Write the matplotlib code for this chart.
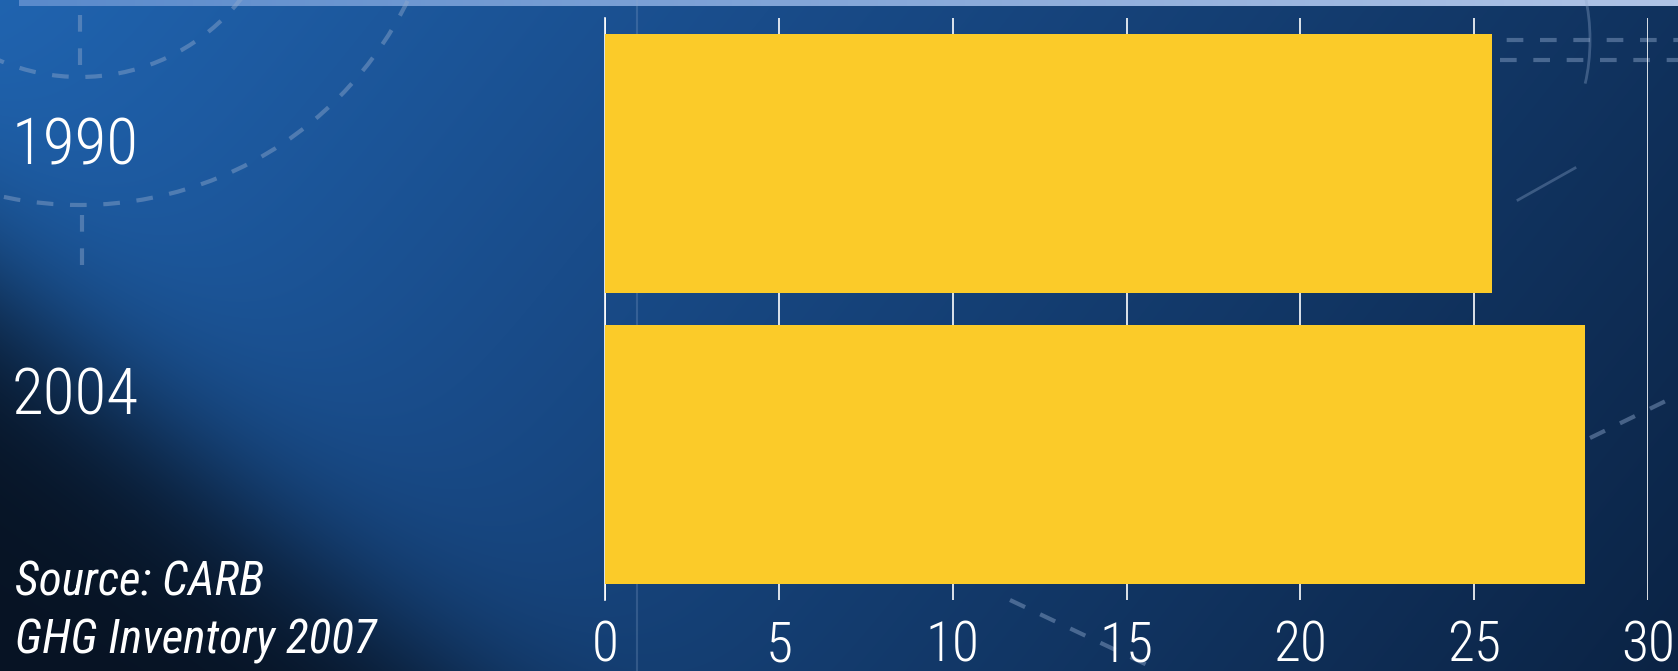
import numpy as np
import matplotlib
matplotlib.use("Agg")
import matplotlib.pyplot as plt
from matplotlib.patches import Arc

# data
years = ["1990", "2004"]
emissions = [25.5, 28.2]
xticks = [0, 5, 10, 15, 20, 25, 30]
source_lines = ["Source: CARB", "GHG Inventory 2007"]

W, H = 1678, 671
plt.rcParams['font.family'] = ['Roboto Condensed', 'Liberation Sans Narrow', 'Roboto', 'DejaVu Sans']
plt.rcParams['font.weight'] = 'light'

fig = plt.figure(figsize=(W / 100, H / 100), dpi=100)

# ---- background gradient (pixel space) ----
bg = fig.add_axes([0, 0, 1, 1])
bg.set_xlim(0, W)
bg.set_ylim(H, 0)
bg.axis('off')

xx, yy = np.meshgrid(np.arange(W), np.arange(H))
c_left = np.array([0x20, 0x64, 0xB0]) / 255
c_mid = np.array([0x19, 0x4C, 0x8A]) / 255
c_right = np.array([0x0B, 0x23, 0x44]) / 255
dark = np.array([0x06, 0x10, 0x1E]) / 255
t = np.clip((xx + 0.8 * yy) / (W + 0.8 * H), 0, 1)[..., None]
k = 0.35
base = np.where(t < k, c_left + (c_mid - c_left) * (t / k),
                c_mid + (c_right - c_mid) * ((t - k) / (1 - k)))
# darker corner bottom-left
s = ((yy - 300) - 0.84 * xx) / np.sqrt(1 + 0.84 ** 2)
w = (1 / (1 + np.exp(-s / 45)))[..., None] * 0.95
img = base * (1 - w) + dark * w
bg.imshow(img, extent=[0, W, H, 0], aspect='auto', zorder=0)

# light strip at the top
strip = np.linspace(0, 1, 400)[None, :, None]
c1 = np.array([0x5A, 0x8A, 0xCB]) / 255
c2 = np.array([0xB0, 0xC4, 0xE6]) / 255
bg.imshow(c1 + (c2 - c1) * strip, extent=[19, W, 6, 0], aspect='auto', zorder=1)

# decorative faint dashed lines
deco = dict(color='#8FA8CC', alpha=0.45, lw=3, zorder=2)
bg.add_patch(Arc((80, -128), 410, 410, theta1=0, theta2=180, ls=(0, (4, 4)), **deco))
bg.add_patch(Arc((80, -160), 730, 730, theta1=0, theta2=180, ls=(0, (4, 4)), **deco))
bg.plot([80, 80], [15, 75], ls=(0, (4, 4)), **deco)
bg.plot([82, 82], [215, 265], ls=(0, (4, 4)), **deco)
bg.plot([640, W], [40, 40], ls=(0, (4, 4)), **deco)
bg.plot([1500, W], [60, 60], ls=(0, (4, 4)), **deco)
bg.plot([1010, 1160], [600, 671], ls=(0, (4, 4)), **deco)
bg.plot([1590, W], [438, 395], ls=(0, (4, 4)), **deco)
bg.plot([1518, 1575], [200, 168], color='#8FA8CC', alpha=0.35, lw=2, zorder=2)
bg.add_patch(Arc((1560, 40), 60, 160, theta1=-60, theta2=60, color='#8FA8CC', alpha=0.35, lw=2, zorder=2))
bg.plot([637, 637], [0, H], color='#8FA8CC', alpha=0.25, lw=1.5, zorder=2)

# ---- chart ----
ax = fig.add_axes([605 / W, 1 - 600 / H, 1043 / W, 582 / H])
ax.patch.set_alpha(0)
ypos = np.arange(len(years))
ax.barh(ypos, emissions, height=0.89, color='#FBCB29', zorder=3)
ax.set_xlim(0, 30)
ax.set_ylim(1.5, -0.5)
ax.set_xticks(xticks)
ax.set_xticklabels([str(v) for v in xticks])
ax.xaxis.grid(True, color='white', lw=1.2, zorder=1)
ax.set_axisbelow(True)
for sp in ['top', 'right', 'bottom']:
    ax.spines[sp].set_visible(False)
ax.spines['left'].set_color('white')
ax.spines['left'].set_linewidth(1.2)
ax.tick_params(axis='x', length=0, pad=14, labelsize=40, labelcolor='white')
ax.set_yticks([])

# year labels sit a bit above the bar centres in the original
label_shift = [-0.06, -0.20]
for i, yr in enumerate(years):
    ax.text(-593 / 1043 * 30, ypos[i] + label_shift[i], yr, ha='left', va='center',
            color='white', fontsize=47, clip_on=False)

fig.text(15 / W, 1 - 596 / H, source_lines[0], color='white', fontsize=34,
         style='italic', weight='normal', ha='left', va='baseline')
fig.text(15 / W, 1 - 653 / H, source_lines[1], color='white', fontsize=34,
         style='italic', weight='normal', ha='left', va='baseline')

fig.savefig('out.png', dpi=100)
